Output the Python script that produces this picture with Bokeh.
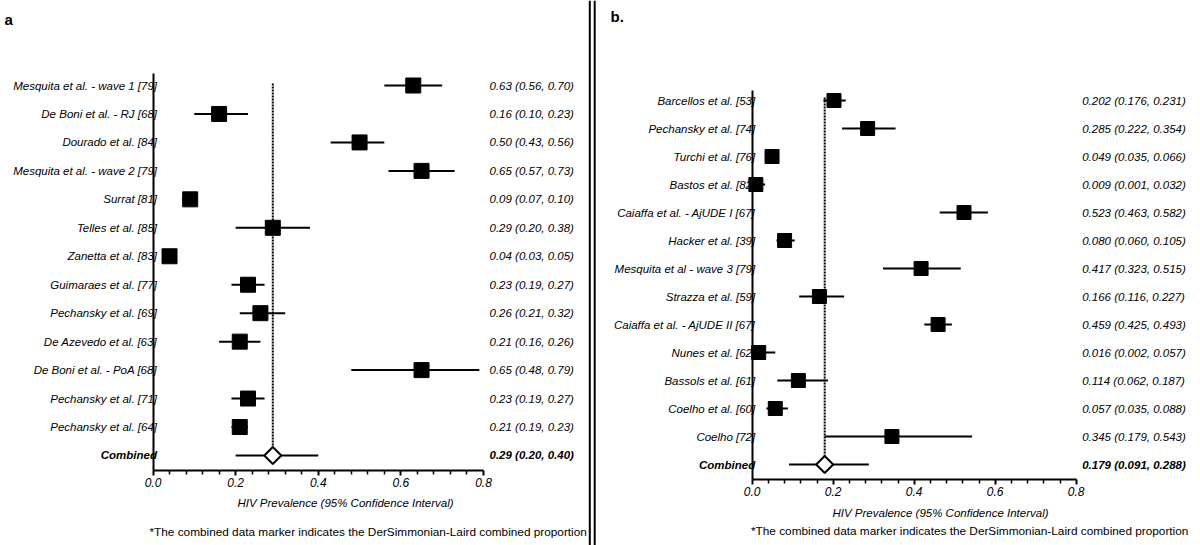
import numpy as np
from bokeh.plotting import figure
from bokeh.models import (Range1d, FixedTicker, PrintfTickFormatter, ColumnDataSource,
                          LinearAxis, Span)
from bokeh.layouts import row
from bokeh.core.properties import value
from bokeh.embed import file_html
from bokeh.resources import INLINE

# ---------------- data ----------------
studies_a = ["Mesquita et al. - wave 1 [79]", "De Boni et al. - RJ [68]", "Dourado et al. [84]",
             "Mesquita et al. - wave 2 [79]", "Surrat [81]", "Telles et al. [85]",
             "Zanetta et al. [83]", "Guimaraes et al. [77]", "Pechansky et al. [69]",
             "De Azevedo et al. [63]", "De Boni et al. - PoA [68]", "Pechansky et al. [71]",
             "Pechansky et al. [64]", "Combined"]
prev_a = [0.63, 0.16, 0.50, 0.65, 0.09, 0.29, 0.04, 0.23, 0.26, 0.21, 0.65, 0.23, 0.21, 0.29]
lower_a = [0.56, 0.10, 0.43, 0.57, 0.07, 0.20, 0.03, 0.19, 0.21, 0.16, 0.48, 0.19, 0.19, 0.20]
upper_a = [0.70, 0.23, 0.56, 0.73, 0.10, 0.38, 0.05, 0.27, 0.32, 0.26, 0.79, 0.27, 0.23, 0.40]

studies_b = ["Barcellos et al. [53]", "Pechansky et al. [74]", "Turchi et al. [76]",
             "Bastos et al. [82]", "Caiaffa et al. - AjUDE I [67]", "Hacker et al. [39]",
             "Mesquita et al - wave 3 [79]", "Strazza et al. [59]",
             "Caiaffa et al. - AjUDE II [67]", "Nunes et al. [62]", "Bassols et al. [61]",
             "Coelho et al. [60]", "Coelho [72]", "Combined"]
prev_b = [0.202, 0.285, 0.049, 0.009, 0.523, 0.080, 0.417, 0.166, 0.459, 0.016, 0.114, 0.057, 0.345, 0.179]
lower_b = [0.176, 0.222, 0.035, 0.001, 0.463, 0.060, 0.323, 0.116, 0.425, 0.002, 0.062, 0.035, 0.179, 0.091]
upper_b = [0.231, 0.354, 0.066, 0.032, 0.582, 0.105, 0.515, 0.227, 0.493, 0.057, 0.187, 0.088, 0.543, 0.288]

x_ticks = [0.0, 0.2, 0.4, 0.6, 0.8]
x_minor_ticks = [0.04, 0.08, 0.12, 0.16, 0.24, 0.28, 0.32, 0.36,
                 0.44, 0.48, 0.52, 0.56, 0.64, 0.68, 0.72, 0.76]
x_title = "HIV Prevalence (95% Confidence Interval)"
footnote = "*The combined data marker indicates the DerSimmonian-Laird combined proportion"

FONT = "Liberation Sans"
FS = "11.5px"
H = 545


def panel(names, est, lo, hi, decimals, letter, g):
    n = len(names)
    ox, w = g["ox"], g["w"]
    X0, X1 = g["x0px"], g["x1px"]
    k = (X1 - X0) / 0.8
    row0, pitch = g["row0"], g["pitch"]

    def dx(X):
        return (X - X0) / k

    def dy(Y):
        return (Y - row0) / pitch

    p = figure(width=w, height=H, x_range=Range1d(dx(ox), dx(ox + w)),
               y_range=Range1d(dy(H), dy(0)), output_backend="svg", toolbar_location=None,
               title=None, x_axis_location=None, y_axis_location=None,
               min_border_left=0, min_border_right=0, min_border_top=0, min_border_bottom=0)
    p.xgrid.visible = False
    p.ygrid.visible = False
    p.outline_line_color = None
    p.background_fill_color = "white"
    p.border_fill_color = "white"

    # axes (drawn at fixed locations, limited to the data interval)
    xaxis = LinearAxis(fixed_location=dy(g["axis_y"]), bounds=(0, 0.8),
                       ticker=FixedTicker(ticks=x_ticks, minor_ticks=x_minor_ticks),
                       formatter=PrintfTickFormatter(format="%.1f"))
    xaxis.axis_line_width = 2
    xaxis.axis_line_color = "black"
    xaxis.major_tick_line_color = "black"
    xaxis.major_tick_line_width = 2
    xaxis.major_tick_in = 0
    xaxis.major_tick_out = 5
    xaxis.minor_tick_line_color = "black"
    xaxis.minor_tick_line_width = 1.5
    xaxis.minor_tick_in = 0
    xaxis.minor_tick_out = 4
    xaxis.major_label_standoff = 2
    xaxis.major_label_text_font = FONT
    xaxis.major_label_text_font_size = "12px"
    xaxis.major_label_text_font_style = "italic"
    xaxis.major_label_text_color = "black"
    p.add_layout(xaxis, "below")

    yaxis = LinearAxis(fixed_location=0, bounds=(dy(g["top_y"]), dy(g["axis_y"])),
                       ticker=FixedTicker(ticks=[]))
    yaxis.axis_line_width = 2
    yaxis.axis_line_color = "black"
    yaxis.major_label_text_font_size = "0px"
    p.add_layout(yaxis, "left")

    fmt = "{:.%df} ({:.%df}, {:.%df})" % (decimals, decimals, decimals)
    vals = [fmt.format(e, l, u) for e, l, u in zip(est, lo, hi)]
    ys = list(range(n))

    src = ColumnDataSource(dict(y=ys[:-1], est=est[:-1], lo=lo[:-1], hi=hi[:-1],
                                name=names[:-1], val=vals[:-1]))
    csrc = ColumnDataSource(dict(y=ys[-1:], est=est[-1:], lo=lo[-1:], hi=hi[-1:],
                                 name=names[-1:], val=vals[-1:], top=[dy(g["dot_top"])]))

    # reference dotted line at the combined estimate
    p.segment(x0="est", y0="top", x1="est", y1="y", source=csrc, line_color="black",
              line_width=2, line_dash="2 1")
    # studies
    p.segment(x0="lo", y0="y", x1="hi", y1="y", source=src, line_color="black", line_width=2)
    p.scatter(x="est", y="y", source=src, marker="square", size=g["sq"],
              fill_color="black", line_color="black", line_width=1)
    # combined
    p.segment(x0="lo", y0="y", x1="hi", y1="y", source=csrc, line_color="black", line_width=2)
    p.scatter(x="est", y="y", source=csrc, marker="square", angle=np.pi / 4, size=12,
              fill_color="white", line_color="black", line_width=2)

    common = dict(text_baseline="middle", text_font=value(FONT), text_font_size=value(FS),
                  text_color="black")
    p.text(x=0, y="y", text="name", source=src, x_offset=g["lab_off"], text_align="right",
           text_font_style=value("italic"), **common)
    p.text(x=0, y="y", text="name", source=csrc, x_offset=g["lab_off"], text_align="right",
           text_font_style=value("bold italic"), **common)
    p.text(x=0.8, y="y", text="val", source=src, x_offset=6, text_align="left",
           text_font_style=value("italic"), **common)
    p.text(x=0.8, y="y", text="val", source=csrc, x_offset=6, text_align="left",
           text_font_style=value("bold italic"), **common)

    tx, ty = g["title"]
    p.text(x=[dx(tx)], y=[dy(ty)], text=[x_title], text_align="center",
           text_font_style=value("italic"), **common)
    fx, fy = g["foot"]
    p.text(x=[dx(fx)], y=[dy(fy)], text=[footnote], text_align="left", text_baseline="middle",
           text_font=value(FONT), text_font_size=value("11.8px"),
           text_font_style=value("normal"), text_color="black")
    lx, ly = g["letter"]
    p.text(x=[dx(lx)], y=[dy(ly)], text=[letter], text_align="left", text_baseline="middle",
           text_font=value(FONT), text_font_size=value("15px"), text_font_style=value("bold"),
           text_color="black")

    for sx in g["seps"]:
        p.add_layout(Span(location=dx(sx), dimension="height", line_color="black",
                          line_width=2))
    return p


geom_a = dict(ox=0, w=592, x0px=152.5, x1px=483, axis_y=470, top_y=73, row0=85, pitch=28.46,
              dot_top=83, lab_off=4, sq=15, title=(345, 502), foot=(149, 531),
              letter=(4, 18.5), seps=[589.3])
geom_b = dict(ox=592, w=608, x0px=751.7, x1px=1075.7, axis_y=479, top_y=90, row0=100,
              pitch=28.0, dot_top=97, lab_off=3, sq=14, title=(940, 512), foot=(750.5, 530),
              letter=(610, 16), seps=[594.2])

pa = panel(studies_a, prev_a, lower_a, upper_a, 2, "a", geom_a)
pb = panel(studies_b, prev_b, lower_b, upper_b, 3, "b.", geom_b)

layout = row(pa, pb)
open("out.html", "w").write(file_html(layout, INLINE))
